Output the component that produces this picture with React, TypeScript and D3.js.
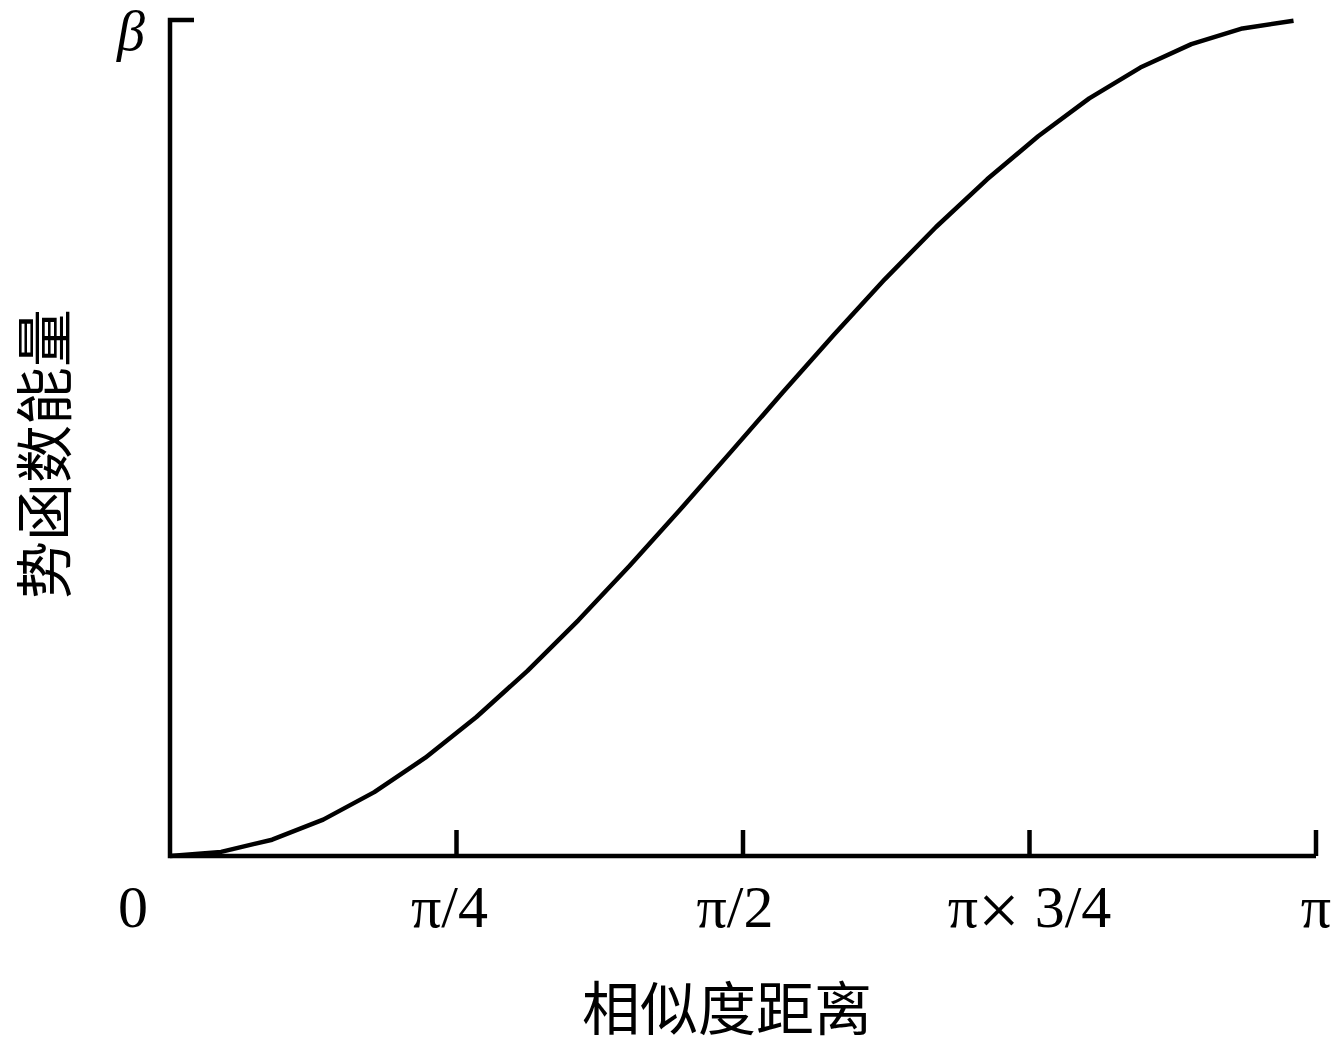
import React, { useEffect, useRef } from "react";
import * as d3 from "d3";

const xValues = [0, 0.14, 0.28, 0.42, 0.56, 0.7, 0.84, 0.98, 1.12, 1.26, 1.4, 1.54, 1.68, 1.82, 1.96, 2.1, 2.24, 2.38, 2.52, 2.66, 2.8, 2.94, 3.08];
const yValues = [0, 0.0049, 0.0195, 0.0435, 0.0764, 0.1176, 0.1663, 0.2215, 0.2822, 0.3471, 0.415, 0.4846, 0.5546, 0.6235, 0.6901, 0.7524, 0.8094, 0.861, 0.9063, 0.9431, 0.9711, 0.9899, 0.9991];
const tickValues = [0, Math.PI / 4, Math.PI / 2, (3 * Math.PI) / 4, Math.PI];
const tickLabels = ["0", "π/4", "π/2", "π× 3/4", "π"];
const xTitle = "相似度距离";
const yTitle = "势函数能量";
const yTopLabel = "β";

const W = 1336;
const H = 1046;

export default function App() {
  const ref = useRef<SVGSVGElement | null>(null);

  useEffect(() => {
    const svg = d3.select(ref.current);
    svg.selectAll("*").remove();

    const x = d3.scaleLinear().domain([0, Math.PI]).range([170, 1316]);
    const y = d3.scaleLinear().domain([0, 1]).range([856, 20]);

    const g = svg.append("g");

    // axes
    g.append("path")
      .attr("d", `M${x(0) + 24},${y(1)} H${x(0)} V${y(0)} H${x(Math.PI)}`)
      .attr("fill", "none")
      .attr("stroke", "#000")
      .attr("stroke-width", 4.5)
      .attr("stroke-linejoin", "miter");

    // x ticks (upward)
    tickValues.slice(1).forEach((v) => {
      g.append("line")
        .attr("x1", x(v))
        .attr("x2", x(v))
        .attr("y1", y(0))
        .attr("y2", y(0) - 26)
        .attr("stroke", "#000")
        .attr("stroke-width", 4.5);
    });

    // tick labels
    const labelShift = [-37, -7, -8, 0, 0];
    tickValues.forEach((v, i) => {
      const t = g.append("text")
        .attr("x", x(v) + labelShift[i])
        .attr("y", 927)
        .attr("text-anchor", "middle")
        .attr("font-family", "'Liberation Serif', 'Times New Roman', serif")
        .attr("font-size", 60)
        .attr("fill", "#000");
      const parts = tickLabels[i].split("×");
      if (parts.length === 2) {
        t.append("tspan").text(parts[0]);
        t.append("tspan").attr("font-size", 74).attr("dy", 8).text("×");
        t.append("tspan").attr("dy", -8).text(parts[1]);
      } else {
        t.text(tickLabels[i]);
      }
    });

    // β label
    g.append("text")
      .attr("x", 131)
      .attr("y", 50)
      .attr("text-anchor", "middle")
      .attr("font-family", "'Liberation Serif', 'Times New Roman', serif")
      .attr("font-style", "italic")
      .attr("font-size", 56)
      .attr("fill", "#000")
      .text(yTopLabel);

    // curve
    const pts = xValues.map((xv, i) => [xv, yValues[i]] as [number, number]);
    const line = d3
      .line<[number, number]>()
      .x((d) => x(d[0]))
      .y((d) => y(d[1]));
    g.append("path")
      .attr("d", line(pts) as string)
      .attr("fill", "none")
      .attr("stroke", "#000")
      .attr("stroke-width", 4.5)
      .attr("stroke-linejoin", "round");

    // axis titles
    g.append("text")
      .attr("x", 727)
      .attr("y", 1030)
      .attr("text-anchor", "middle")
      .attr("font-family", "'Noto Sans CJK SC', sans-serif")
      .attr("font-size", 58)
      .attr("fill", "#000")
      .text(xTitle);

    g.append("text")
      .attr("transform", `translate(66,454) rotate(-90)`)
      .attr("text-anchor", "middle")
      .attr("font-family", "'Noto Sans CJK SC', sans-serif")
      .attr("font-size", 58)
      .attr("fill", "#000")
      .text(yTitle);
  }, []);

  return (
    <svg
      ref={ref}
      width={W}
      height={H}
      style={{ position: "absolute", left: 0, top: 0, background: "#fff" }}
    />
  );
}
